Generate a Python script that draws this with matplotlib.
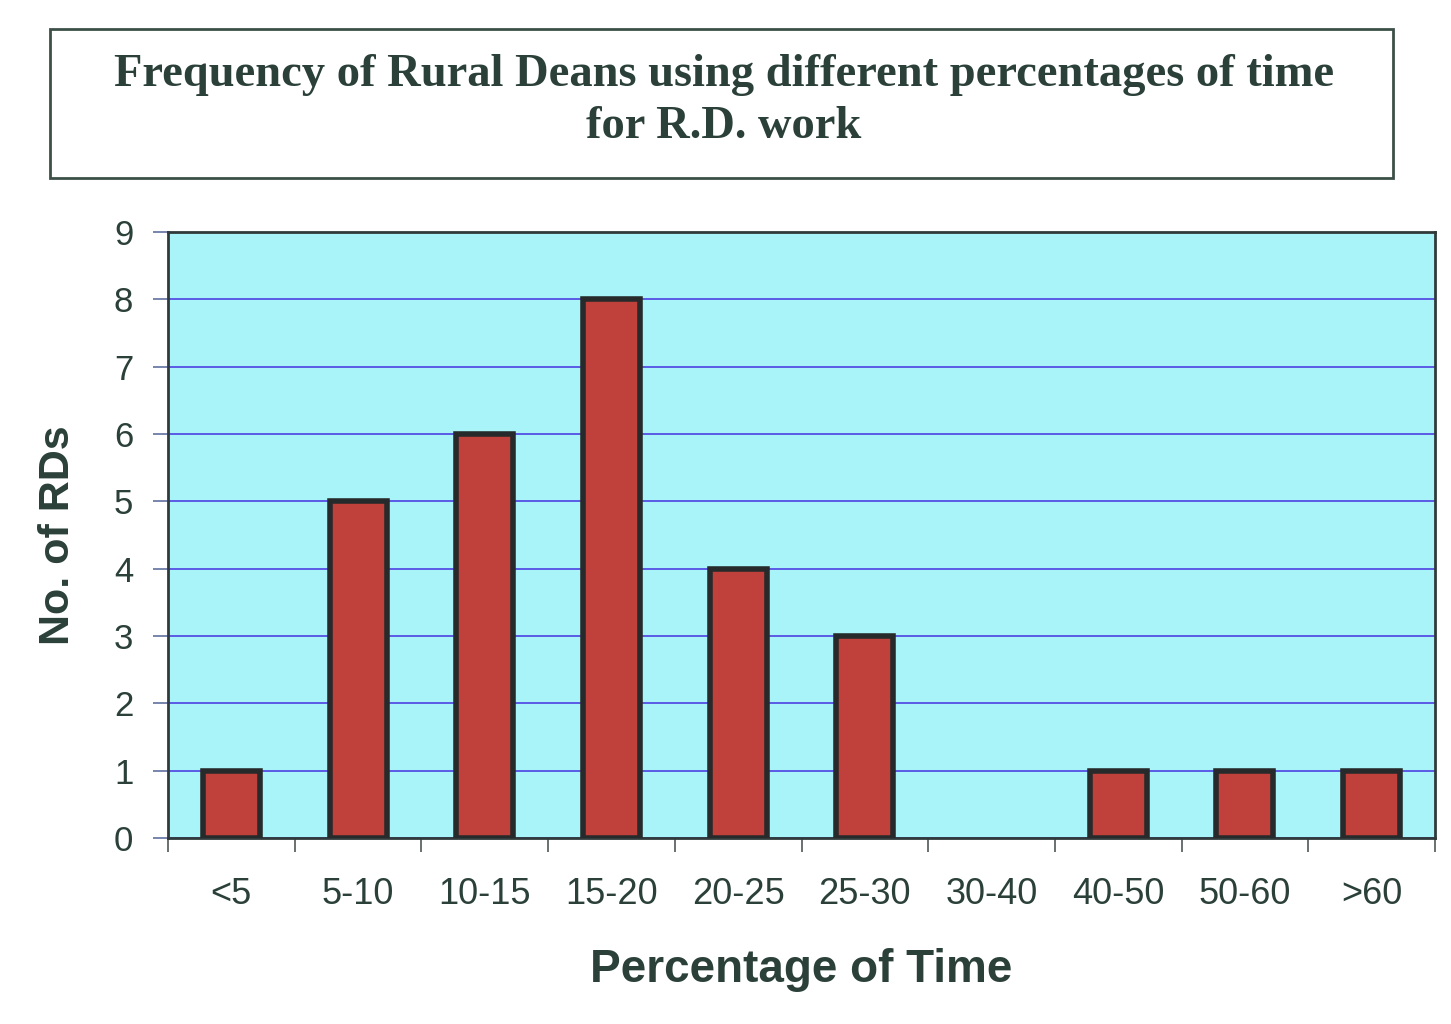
import matplotlib.pyplot as plt
from matplotlib.patches import Rectangle

# data
categories = ['<5', '5-10', '10-15', '15-20', '20-25', '25-30', '30-40', '40-50', '50-60', '>60']
counts = [1, 5, 6, 8, 4, 3, 0, 1, 1, 1]

title = 'Frequency of Rural Deans using different percentages of time\nfor R.D. work'
text_col = '#2a4038'
bar_col = '#c0403c'
edge_col = '#262a2a'
bg_col = '#a8f4f8'
grid_col = '#5a5ae6'

fig = plt.figure(figsize=(14.51, 10.24), dpi=100)

# title box
box = Rectangle((50 / 1451, 1 - 178 / 1024), (1393 - 50) / 1451, (178 - 29) / 1024,
                transform=fig.transFigure, fill=False, edgecolor='#3c5048', linewidth=2)
fig.patches.append(box)
fig.text(724 / 1451, 1 - 101 / 1024, title, ha='center', va='center',
         fontsize=33.5, fontweight='bold', family='Liberation Serif', color=text_col,
         linespacing=1.32)

ax = fig.add_axes([168 / 1451, 1 - 838 / 1024, (1435 - 168) / 1451, (838 - 232) / 1024])
ax.set_facecolor(bg_col)

x = [i + 0.5 for i in range(len(categories))]
edges = [edge_col if c > 0 else 'none' for c in counts]
ax.bar(x, counts, width=0.45, color=bar_col, edgecolor=edges, linewidth=4, zorder=3)

ax.set_xlim(0, len(categories))
ax.set_ylim(0, 9)
ax.set_yticks(range(10))
ax.yaxis.grid(True, color=grid_col, linewidth=1.4, zorder=1)
ax.set_axisbelow(True)

# boundaries get tick marks, category names sit between them
ax.set_xticks(range(len(categories) + 1))
ax.set_xticklabels([])
ax.set_xticks(x, minor=True)
ax.set_xticklabels(categories, minor=True)
ax.tick_params(axis='x', which='major', length=10, width=1.2, color='#505858', direction='out')
ax.tick_params(axis='x', which='minor', length=0, pad=28, labelsize=26, labelcolor=text_col)
ax.tick_params(axis='y', length=11, width=1.2, color='#6070a0', pad=14, labelsize=25,
               labelcolor=text_col)
for lab in ax.get_xticklabels(minor=True) + ax.get_yticklabels():
    lab.set_family('Liberation Sans')

for s in ax.spines.values():
    s.set_color('#303a3a')
    s.set_linewidth(2)

ax.set_xlabel('Percentage of Time', fontsize=33, fontweight='bold', family='Liberation Sans',
              color=text_col, labelpad=26)
ax.set_ylabel('No. of RDs', fontsize=31, fontweight='bold', family='Liberation Sans',
              color=text_col, labelpad=26)

fig.savefig('out.png', dpi=100)
